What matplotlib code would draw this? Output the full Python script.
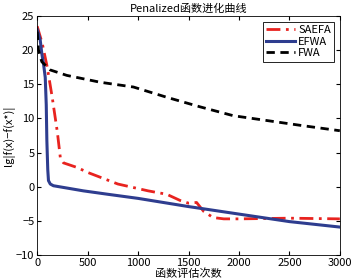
import matplotlib
matplotlib.use("Agg")
import matplotlib.pyplot as plt

plt.rcParams['font.family'] = ['Noto Sans CJK SC', 'DejaVu Sans']
plt.rcParams['axes.unicode_minus'] = True

# data
saefa_x = [0, 50, 100, 150, 200, 230, 260, 400, 500, 624, 800, 950, 1100, 1284, 1416, 1500, 1580, 1650, 1743, 1850, 2000, 2500, 3000]
saefa_y = [23.5, 21, 17.5, 13, 8, 4.2, 3.5, 2.8, 2.1, 1.4, 0.4, -0.1, -0.6, -1.1, -2.0, -2.4, -2.3, -3.6, -4.5, -4.7, -4.7, -4.6, -4.7]

efwa_x = [0, 30, 46, 63, 80, 90, 96, 105, 112, 130, 161, 300, 458, 700, 1000, 1500, 2000, 2500, 3000]
efwa_y = [23, 21.5, 19.5, 18, 16, 12, 6.8, 2.5, 0.9, 0.4, 0.15, -0.2, -0.6, -1.1, -1.7, -2.9, -4.0, -5.1, -5.9]

fwa_x = [0, 13, 46, 129, 294, 624, 954, 1284, 1614, 1944, 2274, 2604, 3000]
fwa_y = [22.7, 20, 18.3, 17.1, 16.3, 15.3, 14.6, 13.1, 11.7, 10.4, 9.7, 9.0, 8.2]

fig = plt.figure(figsize=(3.54, 2.80), dpi=100)
ax = fig.add_axes([0.105, 0.089, 0.855, 0.854])

ax.plot(saefa_x, saefa_y, color='#e8231f', lw=2, ls=(0, (5, 2, 1, 2)), label='SAEFA')
ax.plot(efwa_x, efwa_y, color='#2e3d8f', lw=2.2, label='EFWA')
ax.plot(fwa_x, fwa_y, color='black', lw=2, ls=(0, (3, 2)), label='FWA')

ax.set_xlim(0, 3000)
ax.set_ylim(-10, 25)
ax.set_xticks([0, 500, 1000, 1500, 2000, 2500, 3000])
ax.set_yticks([-10, -5, 0, 5, 10, 15, 20, 25])
ax.tick_params(direction='in', top=True, right=True, labelsize=8, length=3, pad=2)
for s in ax.spines.values():
    s.set_linewidth(0.6)

ax.set_title('Penalized函数进化曲线', fontsize=8, pad=3)
ax.set_xlabel('函数评估次数', fontsize=8, labelpad=0)
ax.set_ylabel('lg|f(x)−f(x*)|', fontsize=8, labelpad=1)

leg = ax.legend(loc='upper right', fontsize=8, handlelength=2.6, borderpad=0.3,
                labelspacing=0.15, handletextpad=0.3, fancybox=False, framealpha=1)
leg.get_frame().set_edgecolor('black')
leg.get_frame().set_linewidth(0.6)

fig.savefig('out.png', dpi=100)
